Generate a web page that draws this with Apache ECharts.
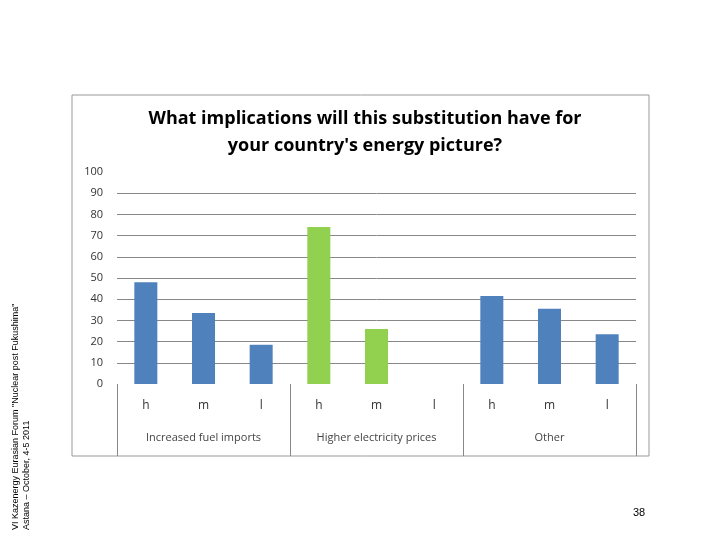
<!DOCTYPE html>
<html>
<head>
<meta charset="utf-8">
<script src="https://cdn.jsdelivr.net/npm/echarts@6/dist/echarts.min.js"></script>
<style>html,body{margin:0;background:#fff}#c{width:720px;height:540px}</style>
</head>
<body>
<div id="c"></div>
<script>
// bar labels and values
const levels = ['h', 'm', 'l', 'h', 'm', 'l', 'h', 'm', 'l'];
const values = [48, 33.5, 18.5, 74, 26, 0, 41.5, 35.5, 23.5];
const groups = ['Increased fuel imports', 'Higher electricity prices', 'Other'];
const groupColors = ['#4f81bd', '#92d050', '#4f81bd'];

const chart = echarts.init(document.getElementById('c'));
const font = '"Open Sans", "Liberation Sans", sans-serif';

chart.setOption({
    animation: false,
    title: {
        text: "What implications will this substitution have for\nyour country's energy picture?",
        left: 360, top: 100, textAlign: 'center',
        textStyle: { fontFamily: font, fontSize: 18, fontWeight: 'bold', color: '#000', lineHeight: 27 }
    },
    grid: { left: 117, right: 84, top: 172, bottom: 156 },
    xAxis: [
        {
            type: 'category', data: levels,
            axisLine: { show: false }, axisTick: { show: false },
            axisLabel: { margin: 16, color: '#333', fontFamily: font, fontSize: 12 }
        },
        {
            type: 'category', data: groups, position: 'bottom',
            axisLine: { show: false },
            axisTick: { show: true, length: 72, lineStyle: { color: '#888' } },
            axisLabel: { margin: 48, color: '#444', fontFamily: font, fontSize: 11 }
        }
    ],
    yAxis: {
        type: 'value', min: 0, max: 100, interval: 10,
        axisLine: { show: false }, axisTick: { show: false },
        axisLabel: { color: '#333', fontFamily: font, fontSize: 11, margin: 14 },
        splitLine: { showMinLine: false, showMaxLine: false, lineStyle: { color: '#888' } }
    },
    series: [{
        type: 'bar', barWidth: 23,
        data: values.map((v, i) => ({ value: v, itemStyle: { color: groupColors[Math.floor(i / 3)] } }))
    }],
    graphic: [
        { type: 'rect', shape: { x: 72, y: 95, width: 577, height: 361 }, style: { fill: 'none', stroke: '#999' } },
        { type: 'text', x: 10, y: 530, rotation: Math.PI / 2,
          style: { text: 'VI Kazenergy Eurasian Forum "Nuclear post Fukushima"\nAstana – October, 4-5 2011',
                   font: '9px "Liberation Sans"', fill: '#000', lineHeight: 11 } },
        { type: 'text', x: 633, y: 507, style: { text: '38', font: '11px "Liberation Sans"', fill: '#000' } }
    ]
});
</script>
</body>
</html>
